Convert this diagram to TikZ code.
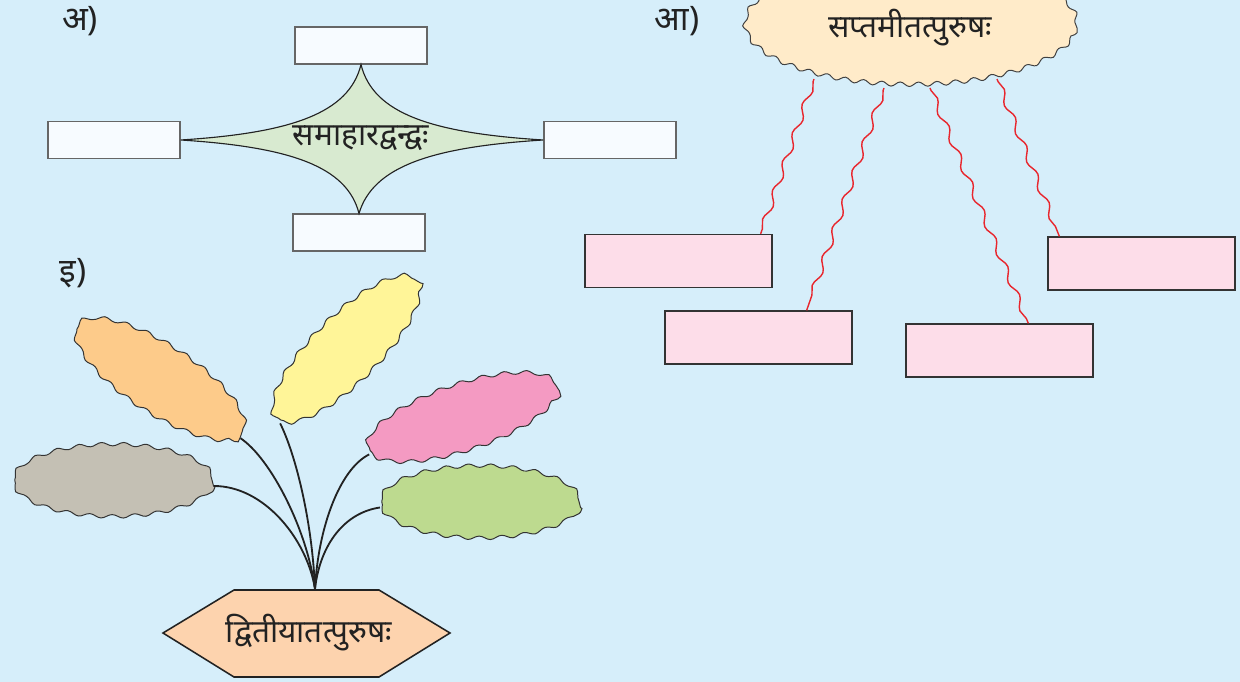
\documentclass[tikz,border=0pt]{standalone}
\usepackage{fontspec}
\newfontfamily\deva[Script=Devanagari]{Noto Sans}
\usetikzlibrary{shapes.geometric,decorations.pathmorphing,calc}
\definecolor{bg}{HTML}{D6EEFA}
\definecolor{wfill}{HTML}{F7FBFF}
\definecolor{starfill}{HTML}{D8EAD0}
\definecolor{cloudfill}{HTML}{FFEBC9}
\definecolor{pinkbox}{HTML}{FDDDE9}
\definecolor{redline}{HTML}{E8262D}
\definecolor{gblob}{HTML}{C4C0B4}
\definecolor{oblob}{HTML}{FDCB8A}
\definecolor{yblob}{HTML}{FFF598}
\definecolor{pblob}{HTML}{F49AC2}
\definecolor{grblob}{HTML}{BDDA8F}
\definecolor{hexfill}{HTML}{FDD3AE}
\definecolor{ink}{HTML}{222222}
\tikzset{
  lbl/.style={font=\deva\fontsize{24}{28}\selectfont, text=ink, inner sep=0},
  maintext/.style={font=\deva\fontsize{22.5}{26}\selectfont, text=ink, inner sep=0},
  wbox/.style={draw=black!60, fill=wfill, line width=0.9pt, minimum width=3.3cm, minimum height=0.92cm, inner sep=0},
  starsty/.style={draw=ink, fill=starfill, line width=0.8pt},
  cloudsty/.style={ellipse, draw=black!75, fill=cloudfill, line width=0.7pt, minimum width=8.3cm, minimum height=3.05cm, inner sep=0,
     decorate, decoration={snake, segment length=0.46cm, amplitude=0.055cm}},
  pbox/.style={draw=black!80, fill=pinkbox, line width=0.9pt, minimum width=4.675cm, minimum height=1.325cm, inner sep=0},
  redwave/.style={draw=redline, line width=1pt, decorate, decoration={snake, segment length=0.76cm, amplitude=0.075cm, pre length=2pt, post length=3pt}},
  blob/.style={ellipse, draw=black!80, line width=0.7pt, inner sep=0,
     decorate, decoration={snake, segment length=0.56cm, amplitude=0.045cm}},
  stem/.style={draw=ink, line width=1.3pt},
  hexsty/.style={draw=ink, fill=hexfill, line width=1.1pt},
}
\begin{document}
\begin{tikzpicture}[x=0.025cm,y=-0.025cm]
\useasboundingbox (0,0) rectangle (1240,682);
\clip (0,0) rectangle (1240,682);
\fill[bg] (0,0) rectangle (1240,682);

% labels
\node[lbl] (la) at (80,21) {अ)};
\node[lbl] (laa) at (677,21) {आ)};
\node[lbl] (li) at (73,273) {इ)};

% part a
\node[wbox] (t) at (361,45.5) {};
\node[wbox] (l) at (114,140) {};
\node[wbox] (r) at (610,140) {};
\node[wbox] (b) at (359,232.5) {};
\path[starsty] (l.east) .. controls +(110,-7) and +(-12,49) .. (t.south)
  .. controls +(12,49) and +(-112,-7) .. (r.west)
  .. controls +(-112,7) and +(14,-47) .. (b.north)
  .. controls +(-12,-47) and +(110,7) .. (l.east) -- cycle;
\node[maintext] (sm) at (361,138) {समाहारद्वन्द्वः};

% part aa
\node[cloudsty] (cl) at (911,28) {};
\node[maintext] (sp) at (910,28) {सप्तमीतत्पुरुषः};
\node[pbox] (p1) at (678.5,261) {};
\node[pbox] (p2) at (758.5,337.5) {};
\node[pbox] (p3) at (999.5,350.5) {};
\node[pbox] (p4) at (1141.5,263.5) {};
\coordinate (c1) at (814,79);
\coordinate (c2) at (884,88);
\coordinate (c3) at (930,88);
\coordinate (c4) at (997,79);
\coordinate (e1) at ($(p1.north east)+(-12,0)$);
\coordinate (e2) at ($(p2.north east)+(-46,0)$);
\coordinate (e3) at ($(p3.north west)+(123,0)$);
\coordinate (e4) at ($(p4.north west)+(12,0)$);
\draw[redwave] (c1) -- (e1);
\draw[redwave] (c2) -- (e2);
\draw[redwave] (c3) -- (e3);
\draw[redwave] (c4) -- (e4);

% part i
\node[blob, fill=gblob, minimum width=5.0cm, minimum height=1.8cm] (g) at (113.5,486) {};
\node[blob, fill=oblob, minimum width=4.95cm, minimum height=1.7cm, rotate=-33] (o) at (157,384) {};
\node[blob, fill=yblob, minimum width=4.95cm, minimum height=1.65cm, rotate=45] (y) at (350.5,353) {};
\node[blob, fill=pblob, minimum width=5.0cm, minimum height=1.65cm, rotate=18.5] (pk) at (464.5,422.5) {};
\node[blob, fill=grblob, minimum width=5.0cm, minimum height=1.8cm] (gr) at (480.5,507.5) {};

\path[hexsty] (163,633) -- (234,590) -- (379,590) -- (450,633) -- (379,677) -- (234,677) -- cycle;
\node[maintext] (ht) at (309,633) {द्वितीयातत्पुरुषः};
\coordinate (hx) at (315,589);

\draw[stem] (g.east) .. controls +(50,0) and +(-8,-50) .. (hx);
\draw[stem] (o.east) .. controls +(30,20) and +(-8,-60) .. (hx);
\draw[stem] (y.west) .. controls +(15,30) and +(-3,-70) .. (hx);
\draw[stem] (pk.west) .. controls +(-30,15) and +(3,-60) .. (hx);
\draw[stem] (gr.west) .. controls +(-35,5) and +(5,-45) .. (hx);
\end{tikzpicture}
\end{document}
